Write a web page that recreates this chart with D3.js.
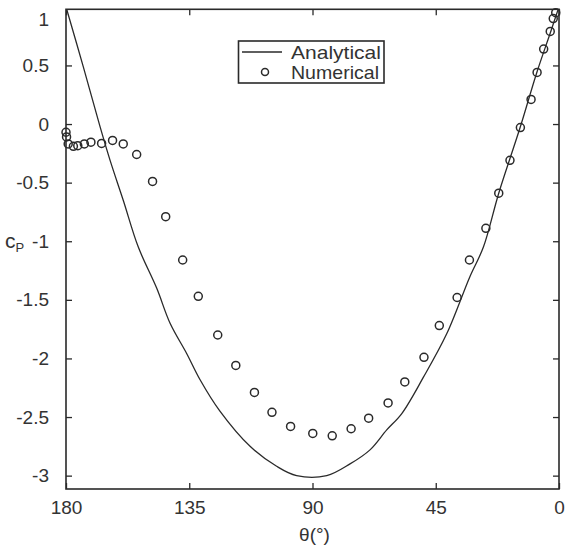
<!DOCTYPE html>
<html>
<head>
<meta charset="utf-8">
<script src="https://cdn.jsdelivr.net/npm/d3@7"></script>
<style>
  body { margin: 0; background: #fff; }
  svg { display: block; }
  text { font-family: "Liberation Sans", Arial, sans-serif; fill: #333; }
</style>
</head>
<body>
<svg id="chart" width="566" height="550"></svg>
<script>
// Analytical curve
const thetaA = [180, 173.7, 167.6, 163.9, 159.1, 153.6, 146.9, 142.0, 135.9, 131.1, 123.8, 112.8, 103.1, 95.8, 84.8, 76.3, 69.0, 62.9, 57.4, 49.5, 41.0, 32.5, 27.6, 22.0, 14.2, 8.1, 3.0, 0];
const cpA    = [1.0, 0.49, -0.02, -0.31, -0.65, -1.05, -1.40, -1.70, -1.96, -2.18, -2.45, -2.75, -2.92, -3.0, -3.0, -2.90, -2.78, -2.61, -2.47, -2.16, -1.79, -1.30, -1.05, -0.59, -0.03, 0.44, 0.79, 1.0];

// Numerical points
const thetaN = [180, 179.8, 179.2, 177.3, 175.7, 173.3, 170.9, 167.0, 163.0, 159.1, 154.2, 148.4, 143.6, 137.4, 131.7, 124.6, 118.0, 111.2, 104.8, 98.0, 89.9, 82.8, 75.9, 69.5, 62.4, 56.3, 49.3, 43.7, 37.2, 32.7, 26.7, 22.0, 17.9, 14.1, 10.2, 8.0, 5.6, 3.2, 2.1, 1.2];
const cpN    = [-0.07, -0.11, -0.17, -0.19, -0.185, -0.17, -0.155, -0.165, -0.14, -0.17, -0.26, -0.49, -0.79, -1.16, -1.47, -1.80, -2.06, -2.29, -2.46, -2.58, -2.64, -2.66, -2.60, -2.51, -2.38, -2.20, -1.99, -1.72, -1.48, -1.16, -0.89, -0.59, -0.31, -0.03, 0.21, 0.44, 0.64, 0.79, 0.90, 0.95];

const xTicks = [180, 135, 90, 45, 0];
const yTicks = [-3, -2.5, -2, -1.5, -1, -0.5, 0, 0.5, 1];
const seriesNames = ["Analytical", "Numerical"];
const xTitle = "θ(°)";

const svg = d3.select("#chart");
const L = 66, R = 559, T = 9.3, B = 489;
const x = d3.scaleLinear().domain([180, 0]).range([L, R]);
const y = d3.scaleLinear().domain([-3.114, 0.979]).range([B, T]);
const ink = "#2a2a2a";

svg.append("defs").append("clipPath").attr("id", "clip")
  .append("rect").attr("x", L).attr("y", T).attr("width", R - L).attr("height", B - T);

// Axes (inward ticks)
const fmt = d => String(d);
const gB = svg.append("g").attr("transform", `translate(0,${B})`)
  .call(d3.axisBottom(x).tickValues(xTicks).tickSizeInner(-6).tickSizeOuter(0).tickPadding(12).tickFormat(fmt));
const gT = svg.append("g").attr("transform", `translate(0,${T})`)
  .call(d3.axisTop(x).tickValues(xTicks).tickSizeInner(-6).tickSizeOuter(0).tickFormat(""));
const gL = svg.append("g").attr("transform", `translate(${L},0)`)
  .call(d3.axisLeft(y).tickValues(yTicks).tickSizeInner(-6).tickSizeOuter(0).tickPadding(17).tickFormat(fmt));
const gR = svg.append("g").attr("transform", `translate(${R},0)`)
  .call(d3.axisRight(y).tickValues(yTicks).tickSizeInner(-6).tickSizeOuter(0).tickFormat(""));

[gB, gT, gL, gR].forEach(g => {
  g.select(".domain").remove();
  g.selectAll(".tick line").attr("stroke", ink).attr("stroke-width", 1.3);
  g.selectAll(".tick text").attr("font-size", 19).attr("fill", "#333")
    .style("font-family", "'Liberation Sans', Arial, sans-serif");
});
// Top value "1" sits at the frame edge: drop its tick and nudge label down
[gL, gR].forEach(g => g.selectAll(".tick").filter(d => d === 1).select("line").remove());
gL.selectAll(".tick").filter(d => d === 1).select("text").attr("dy", "1.0em");

// Frame
svg.append("rect").attr("x", L).attr("y", T).attr("width", R - L).attr("height", B - T)
  .attr("fill", "none").attr("stroke", ink).attr("stroke-width", 1.6);

// Analytical line
const lineData = thetaA.map((t, i) => [t, cpA[i]]);
svg.append("path").datum(lineData)
  .attr("clip-path", "url(#clip)")
  .attr("fill", "none").attr("stroke", ink).attr("stroke-width", 1.3)
  .attr("d", d3.line().curve(d3.curveCatmullRom.alpha(0.5)).x(d => x(d[0])).y(d => y(d[1])));

// Numerical circles
svg.append("g").selectAll("circle").data(thetaN.map((t, i) => [t, cpN[i]]))
  .join("circle")
  .attr("cx", d => x(d[0])).attr("cy", d => y(d[1])).attr("r", 4)
  .attr("fill", "none").attr("stroke", ink).attr("stroke-width", 1.5);

// Axis titles
svg.append("text").attr("x", (L + R) / 2 + 2).attr("y", 541).attr("text-anchor", "middle")
  .attr("font-size", 19).text(xTitle);
const yl = svg.append("text").attr("x", 5).attr("y", 248).attr("font-size", 21);
yl.append("tspan").text("c");
yl.append("tspan").attr("font-size", 13).attr("dy", 4).text("P");

// Legend
const lg = svg.append("g");
lg.append("rect").attr("x", 238.5).attr("y", 41).attr("width", 145.5).attr("height", 42)
  .attr("fill", "#fff").attr("stroke", ink).attr("stroke-width", 1.6);
lg.append("line").attr("x1", 242).attr("x2", 282).attr("y1", 52).attr("y2", 52)
  .attr("stroke", ink).attr("stroke-width", 1.3);
lg.append("circle").attr("cx", 265).attr("cy", 72).attr("r", 3.5)
  .attr("fill", "none").attr("stroke", ink).attr("stroke-width", 1.5);
lg.selectAll("text.lg").data(seriesNames).join("text").attr("class", "lg")
  .attr("x", 291).attr("y", (d, i) => 52 + i * 20).attr("dy", "0.35em")
  .attr("font-size", 19).attr("textLength", (d, i) => i === 0 ? 90 : 88)
  .attr("lengthAdjust", "spacingAndGlyphs").text(d => d);
</script>
</body>
</html>
